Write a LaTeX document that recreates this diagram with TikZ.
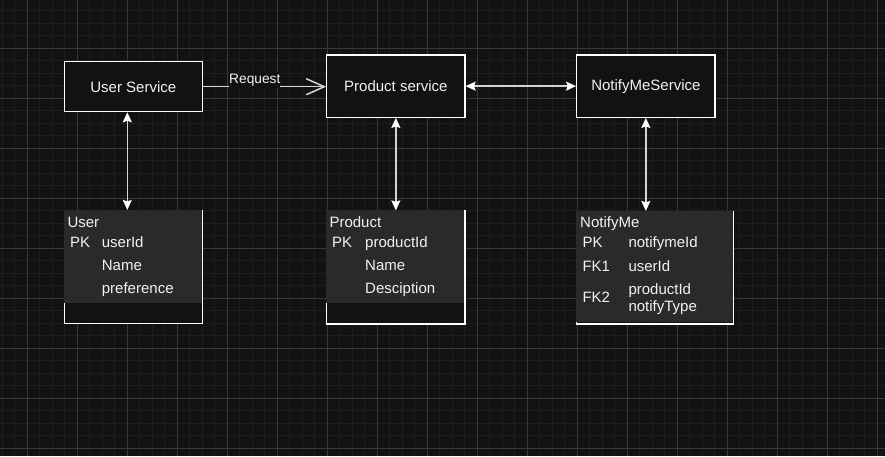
\documentclass[tikz,border=0pt]{standalone}
\usepackage{fontspec}
\setmainfont{Liberation Sans}
\usetikzlibrary{arrows.meta}
\definecolor{bg}{HTML}{121212}
\definecolor{gmin}{HTML}{1E1E1E}
\definecolor{gmaj}{HTML}{383838}
\definecolor{tfill}{HTML}{2A2A2A}
\definecolor{txt}{HTML}{F2F2F2}
\definecolor{ln}{HTML}{D4D4D4}
\tikzset{
  tipst/.tip={Stealth[length=10pt,width=9pt,inset=1.5pt,color=white]},
  barb/.tip={Straight Barb[length=18pt,width=16pt]},
}
\begin{document}
\begin{tikzpicture}[x=1pt,y=-1pt,
  svc/.style={draw=white,line width=1.2pt,fill=bg,text=txt,font=\fontsize{15}{18}\selectfont,inner sep=0pt},
  ttxt/.style={anchor=base west,inner sep=0pt,text=txt,font=\fontsize{15}{18}\selectfont},
  conn/.style={draw=ln,line width=1.5pt},
]
\useasboundingbox (0,0) rectangle (885,456);
\fill[bg] (0,0) rectangle (885,456);
% grid
\foreach \i in {0,...,71} \draw[gmin,line width=1pt] ({2+12.5*\i},0) -- ({2+12.5*\i},456);
\foreach \j in {0,...,36} \draw[gmin,line width=1pt] (0,{10.8+12.5*\j}) -- (885,{10.8+12.5*\j});
\foreach \i in {0,...,17} \draw[gmaj,line width=1pt] ({27+50*\i},0) -- ({27+50*\i},456);
\foreach \j in {0,...,8} \draw[gmaj,line width=1pt] (0,{48.3+50*\j}) -- (885,{48.3+50*\j});

% services
\node[svc,minimum width=138pt,minimum height=50pt] (us) at (133.3,86.7) {User Service};
\node[svc,minimum width=138.3pt,minimum height=62.3pt] (ps) at (395.85,86.15) {Product service};
\node[svc,minimum width=138.3pt,minimum height=62.3pt] (ns) at (645.85,86.15) {NotifyMeService};

% tables
\node[draw=white,line width=1.2pt,fill=bg,inner sep=0pt,minimum width=138pt,minimum height=113.2pt] (ut) at (133.3,267.1) {};
\fill[tfill] (63.7,209.9) rectangle (201.7,302.7);
\node[draw=white,line width=1.2pt,fill=bg,inner sep=0pt,minimum width=138.3pt,minimum height=113pt] (pt) at (395.85,267.5) {};
\fill[tfill] (326.1,210.4) rectangle (464.4,302.7);
\node[draw=white,line width=1.2pt,fill=bg,inner sep=0pt,minimum width=156.6pt,minimum height=112.5pt] (nt) at (655,267.75) {};
\fill[tfill] (576.1,210.9) rectangle (732.7,321.7);

% table texts
\node[ttxt] (u0) at (67.3,227.7) {User};
\node[ttxt] (u1) at (70,247.7) {PK};
\node[ttxt] (u2) at (101.7,247.7) {userId};
\node[ttxt] (u3) at (101.7,270.7) {Name};
\node[ttxt] (u4) at (101.7,293.5) {preference};

\node[ttxt] (p0) at (329.3,227.7) {Product};
\node[ttxt] (p1) at (332,247.7) {PK};
\node[ttxt] (p2) at (365,247.7) {productId};
\node[ttxt] (p3) at (365,270.7) {Name};
\node[ttxt] (p4) at (365,293.5) {Desciption};

\node[ttxt] (n0) at (580,227.7) {NotifyMe};
\node[ttxt] (n1) at (582.3,247.3) {PK};
\node[ttxt] (n2) at (628.3,247.3) {notifymeId};
\node[ttxt] (n3) at (582.3,271) {FK1};
\node[ttxt] (n4) at (628.3,271) {userId};
\node[ttxt] (n5) at (582.3,302.7) {FK2};
\node[ttxt] (n6) at (628.3,294) {productId};
\node[ttxt] (n7) at (628.3,311) {notifyType};

% connectors
\draw[conn,-barb] (us.east) -- (us.east -| ps.west);
\node[fill=bg,anchor=base,inner xsep=0pt,inner ysep=1.5pt,text=txt,font=\fontsize{13.75}{16}\selectfont] (req) at (254.8,83.3) {Request};
\draw[conn,tipst-tipst] (ps.east) -- (ns.west);
\draw[conn,tipst-tipst] ([xshift=-6pt]us.south) -- ([xshift=-6pt]us.south |- ut.north);
\draw[conn,tipst-tipst] (ps.south) -- (ps.south |- pt.north);
\draw[conn,tipst-tipst] (ns.south) -- (ns.south |- nt.north);
\end{tikzpicture}
\end{document}
